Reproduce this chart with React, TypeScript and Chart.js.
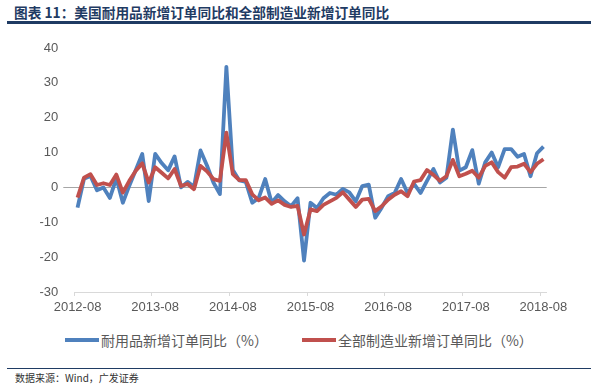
import React, { useEffect, useRef } from "react";
import { Chart, registerables } from "chart.js";

Chart.register(...registerables);

const startYear = 2012;
const startMonth = 8;
const monthCount = 73;
const categories: string[] = [];
for (let i = 0; i < monthCount; i++) {
  const m = startMonth - 1 + i;
  const y = startYear + Math.floor(m / 12);
  const mm = (m % 12) + 1;
  categories.push(`${y}-${mm < 10 ? "0" + mm : mm}`);
}

const durableLabel = "耐用品新增订单同比（%）";
const mfgLabel = "全部制造业新增订单同比（%）";

const durableValues = [
  -5.8, 2.5, 3.3, -0.8, 0.0, -3.0, 2.6, -4.4, 0.5, 5.0, 9.6, -3.9,
  9.6, 7.0, 4.9, 8.9, 0.0, 1.6, 0.2, 10.6, 6.3, 1.4, -1.9, 34.6,
  5.0, 2.0, 1.6, -4.4, -3.0, 2.4, -4.4, -2.2, -4.0, -5.4, -3.1, -21.0,
  -4.4, -5.9, -3.1, -1.6, -2.1, -0.4, -1.4, -4.0, 0.4, 0.8, -8.7, -5.8,
  -2.5, -1.6, 2.4, -1.6, 1.0, -1.6, 1.9, 5.3, 1.4, 2.8, 16.6, 4.8,
  5.8, 10.7, 1.1, 7.2, 10.0, 5.8, 11.0, 11.0, 8.8, 9.6, 3.2, 9.8,
  11.7,
];

const mfgValues = [
  -2.9, 2.8, 3.8, 0.7, 1.2, 0.7, 3.7, -1.5, 1.9, 4.8, 6.9, 1.4,
  5.8, 4.2, 2.6, 5.3, 0.4, 1.0, -0.5, 6.2, 4.6, 2.4, 1.9, 15.7,
  3.8, 2.1, 2.1, -2.0, -3.7, -2.9, -4.7, -3.7, -5.0, -5.6, -5.3, -13.5,
  -6.3, -6.8, -5.0, -4.0, -3.0, -1.4, -3.5, -5.6, -3.5, -3.3, -6.8, -5.4,
  -3.5, -2.1, -1.1, -2.5, 1.7, 2.1, 5.0, 3.6, 1.9, 3.2, 7.9, 3.2,
  3.9, 4.8, 2.8, 6.2, 7.2, 4.4, 2.8, 5.8, 6.0, 6.8, 4.4, 6.8,
  8.1,
];

const yMin = -30;
const yMax = 40;
const yStep = 10;

const BLUE = "#4F81BD";
const RED = "#C0504D";
const TEXT = "#595959";
const NAVY = "#1F3B63";

export default function App() {
  const canvasRef = useRef<HTMLCanvasElement | null>(null);

  useEffect(() => {
    if (!canvasRef.current) return;
    const chart = new Chart(canvasRef.current, {
      type: "line",
      data: {
        labels: categories,
        datasets: [
          {
            label: durableLabel,
            data: durableValues,
            borderColor: BLUE,
            backgroundColor: BLUE,
            borderWidth: 3.8,
            pointRadius: 0,
            tension: 0,
            borderJoinStyle: "round",
            order: 2,
          },
          {
            label: mfgLabel,
            data: mfgValues,
            borderColor: RED,
            backgroundColor: RED,
            borderWidth: 3.8,
            pointRadius: 0,
            tension: 0,
            borderJoinStyle: "round",
            order: 1,
          },
        ],
      },
      options: {
        animation: false,
        responsive: false,
        maintainAspectRatio: false,
        layout: { padding: { left: 0, right: 56.3, top: 48, bottom: 0 } },
        plugins: {
          legend: { display: false },
          tooltip: { enabled: false },
          title: { display: false },
        },
        scales: {
          x: {
            type: "category",
            offset: true,
            afterFit: (scale: any) => {
              scale.height = 30;
            },
            border: { display: true, color: "#d9d9d9", width: 1 },
            grid: {
              offset: true,
              drawOnChartArea: false,
              drawTicks: true,
              tickLength: 4,
              color: (ctx: any) => (ctx.index % 12 === 0 ? "#d9d9d9" : "rgba(0,0,0,0)"),
            },
            ticks: {
              autoSkip: false,
              maxRotation: 0,
              minRotation: 0,
              padding: 4,
              color: TEXT,
              font: { family: "'Liberation Sans', Arial, sans-serif", size: 13 },
              callback: (_v: any, idx: number) => (idx % 12 === 0 ? categories[idx] : ""),
            },
          },
          y: {
            min: yMin,
            max: yMax,
            afterFit: (scale: any) => {
              scale.width = 74.3;
            },
            border: { display: false },
            grid: {
              drawTicks: true,
              tickLength: 11,
              lineWidth: 1,
              color: (ctx: any) => (ctx.tick && ctx.tick.value === 0 ? "#a6a6a6" : "rgba(0,0,0,0)"),
            },
            ticks: {
              stepSize: yStep,
              padding: 5,
              color: TEXT,
              font: { family: "'Liberation Sans', Arial, sans-serif", size: 13 },
            },
          },
        },
      },
    });
    return () => chart.destroy();
  }, []);

  const legendText: React.CSSProperties = {
    fontFamily: "'Noto Sans CJK SC', sans-serif",
    fontSize: 14,
    color: TEXT,
    lineHeight: "18px",
    whiteSpace: "nowrap",
  };

  return (
    <div
      style={{
        position: "fixed",
        left: 0,
        top: 0,
        width: 603,
        height: 390,
        background: "#fff",
        overflow: "hidden",
      }}
    >
      <div
        style={{
          position: "absolute",
          left: 14,
          top: 3,
          fontFamily: "'Noto Sans CJK SC', sans-serif",
          fontWeight: "bold",
          fontSize: 13.7,
          lineHeight: "18px",
          color: NAVY,
          whiteSpace: "nowrap",
        }}
      >
        图表 11：美国耐用品新增订单同比和全部制造业新增订单同比
      </div>
      <div
        style={{
          position: "absolute",
          left: 7,
          top: 21,
          width: 584,
          height: 2.5,
          background: NAVY,
        }}
      />
      <canvas
        ref={canvasRef}
        width={603}
        height={322}
        style={{ position: "absolute", left: 0, top: 0, width: 603, height: 322 }}
      />
      <div
        style={{
          position: "absolute",
          left: 65,
          top: 331,
          display: "flex",
          alignItems: "center",
        }}
      >
        <div style={{ width: 34, height: 4, background: BLUE, marginRight: 2 }} />
        <span style={legendText}>{durableLabel}</span>
        <div style={{ width: 34, height: 4, background: RED, marginLeft: 34, marginRight: 2 }} />
        <span style={legendText}>{mfgLabel}</span>
      </div>
      <div
        style={{
          position: "absolute",
          left: 7,
          top: 368,
          width: 584,
          height: 1,
          background: NAVY,
        }}
      />
      <div
        style={{
          position: "absolute",
          left: 15,
          top: 371,
          fontFamily: "'Noto Sans CJK SC', sans-serif",
          fontSize: 10,
          lineHeight: "14px",
          color: "#333",
          whiteSpace: "nowrap",
        }}
      >
        数据来源：Wind，广发证券
      </div>
    </div>
  );
}
